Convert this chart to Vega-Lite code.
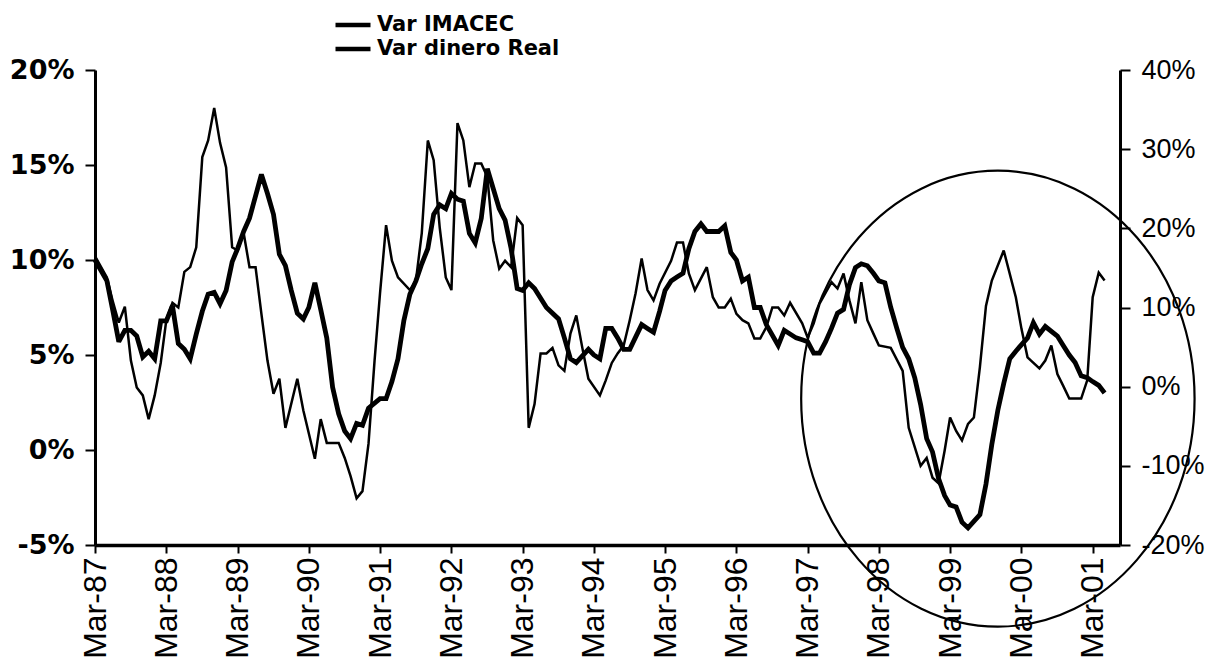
{
  "$schema": "https://vega.github.io/schema/vega-lite/v6.json",
  "width": 1025,
  "height": 475,
  "autosize": "none",
  "padding": {"left": 95, "top": 70, "right": 98, "bottom": 125},
  "background": "white",
  "config": {
    "view": {"stroke": null},
    "axis": {"grid": false, "domainColor": "black", "tickColor": "black", "labelColor": "black", "title": null},
    "legend": {
      "orient": "none", "legendX": 238, "legendY": -57,
      "symbolType": "stroke", "symbolSize": 1225, "symbolStrokeWidth": 4.5,
      "labelFont": "DejaVu Sans", "labelFontWeight": "bold", "labelFontSize": 21, "labelColor": "black", "labelLimit": 400,
      "clipHeight": 24, "rowPadding": 0, "labelOffset": 4, "title": null
    }
  },
  "datasets": {
    "imacec": [
      {"d": "1987-03-01", "v": 10.0}, {"d": "1987-05-01", "v": 8.9}, {"d": "1987-06-01", "v": 7.3}, {"d": "1987-07-01", "v": 5.7},
      {"d": "1987-08-01", "v": 6.3}, {"d": "1987-09-01", "v": 6.3}, {"d": "1987-10-01", "v": 6.0}, {"d": "1987-11-01", "v": 4.9},
      {"d": "1987-12-01", "v": 5.2}, {"d": "1988-01-01", "v": 4.8}, {"d": "1988-02-01", "v": 6.8}, {"d": "1988-03-01", "v": 6.8},
      {"d": "1988-04-01", "v": 7.6}, {"d": "1988-05-01", "v": 5.6}, {"d": "1988-06-01", "v": 5.3}, {"d": "1988-07-01", "v": 4.8},
      {"d": "1988-08-01", "v": 6.1}, {"d": "1988-09-01", "v": 7.3}, {"d": "1988-10-01", "v": 8.2}, {"d": "1988-11-01", "v": 8.3},
      {"d": "1988-12-01", "v": 7.7}, {"d": "1989-01-01", "v": 8.4}, {"d": "1989-02-01", "v": 9.9}, {"d": "1989-03-01", "v": 10.6},
      {"d": "1989-04-01", "v": 11.5}, {"d": "1989-05-01", "v": 12.2}, {"d": "1989-07-01", "v": 14.5}, {"d": "1989-08-01", "v": 13.5},
      {"d": "1989-09-01", "v": 12.4}, {"d": "1989-10-01", "v": 10.3}, {"d": "1989-11-01", "v": 9.7}, {"d": "1989-12-01", "v": 8.4},
      {"d": "1990-01-01", "v": 7.2}, {"d": "1990-02-01", "v": 6.9}, {"d": "1990-03-01", "v": 7.5}, {"d": "1990-04-01", "v": 8.8},
      {"d": "1990-05-01", "v": 7.4}, {"d": "1990-06-01", "v": 5.9}, {"d": "1990-07-01", "v": 3.3}, {"d": "1990-08-01", "v": 1.9},
      {"d": "1990-09-01", "v": 1.0}, {"d": "1990-10-01", "v": 0.6}, {"d": "1990-11-01", "v": 1.4}, {"d": "1990-12-01", "v": 1.3},
      {"d": "1991-01-01", "v": 2.2}, {"d": "1991-03-01", "v": 2.7}, {"d": "1991-04-01", "v": 2.7}, {"d": "1991-05-01", "v": 3.6},
      {"d": "1991-06-01", "v": 4.8}, {"d": "1991-07-01", "v": 6.8}, {"d": "1991-08-01", "v": 8.2}, {"d": "1991-09-01", "v": 8.9},
      {"d": "1991-10-01", "v": 9.8}, {"d": "1991-11-01", "v": 10.6}, {"d": "1991-12-01", "v": 12.4}, {"d": "1992-01-01", "v": 12.9},
      {"d": "1992-02-01", "v": 12.7}, {"d": "1992-03-01", "v": 13.5}, {"d": "1992-04-01", "v": 13.2}, {"d": "1992-05-01", "v": 13.1},
      {"d": "1992-06-01", "v": 11.4}, {"d": "1992-07-01", "v": 10.9}, {"d": "1992-08-01", "v": 12.2}, {"d": "1992-09-01", "v": 14.8},
      {"d": "1992-11-01", "v": 12.7}, {"d": "1992-12-01", "v": 12.1}, {"d": "1993-01-01", "v": 10.6}, {"d": "1993-02-01", "v": 8.5},
      {"d": "1993-03-01", "v": 8.4}, {"d": "1993-04-01", "v": 8.8}, {"d": "1993-05-01", "v": 8.5}, {"d": "1993-07-01", "v": 7.5},
      {"d": "1993-09-01", "v": 6.9}, {"d": "1993-10-01", "v": 5.9}, {"d": "1993-11-01", "v": 4.8}, {"d": "1993-12-01", "v": 4.6},
      {"d": "1994-02-01", "v": 5.3}, {"d": "1994-03-01", "v": 5.0}, {"d": "1994-04-01", "v": 4.8}, {"d": "1994-05-01", "v": 6.4},
      {"d": "1994-06-01", "v": 6.4}, {"d": "1994-07-01", "v": 5.9}, {"d": "1994-08-01", "v": 5.3}, {"d": "1994-09-01", "v": 5.3},
      {"d": "1994-11-01", "v": 6.6}, {"d": "1994-12-01", "v": 6.4}, {"d": "1995-01-01", "v": 6.2}, {"d": "1995-02-01", "v": 7.3},
      {"d": "1995-03-01", "v": 8.4}, {"d": "1995-04-01", "v": 8.9}, {"d": "1995-05-01", "v": 9.1}, {"d": "1995-06-01", "v": 9.3},
      {"d": "1995-07-01", "v": 10.6}, {"d": "1995-08-01", "v": 11.5}, {"d": "1995-09-01", "v": 11.9}, {"d": "1995-10-01", "v": 11.5},
      {"d": "1995-11-01", "v": 11.5}, {"d": "1995-12-01", "v": 11.5}, {"d": "1996-01-01", "v": 11.8}, {"d": "1996-02-01", "v": 10.4},
      {"d": "1996-03-01", "v": 10.0}, {"d": "1996-04-01", "v": 8.9}, {"d": "1996-05-01", "v": 9.1}, {"d": "1996-06-01", "v": 7.5},
      {"d": "1996-07-01", "v": 7.5}, {"d": "1996-08-01", "v": 6.6}, {"d": "1996-10-01", "v": 5.5}, {"d": "1996-11-01", "v": 6.3},
      {"d": "1997-01-01", "v": 5.9}, {"d": "1997-02-01", "v": 5.8}, {"d": "1997-03-01", "v": 5.7}, {"d": "1997-04-01", "v": 5.1},
      {"d": "1997-05-01", "v": 5.1}, {"d": "1997-06-01", "v": 5.7}, {"d": "1997-07-01", "v": 6.4}, {"d": "1997-08-01", "v": 7.2},
      {"d": "1997-09-01", "v": 7.4}, {"d": "1997-10-01", "v": 8.7}, {"d": "1997-11-01", "v": 9.6}, {"d": "1997-12-01", "v": 9.8},
      {"d": "1998-01-01", "v": 9.7}, {"d": "1998-02-01", "v": 9.3}, {"d": "1998-03-01", "v": 8.9}, {"d": "1998-04-01", "v": 8.8},
      {"d": "1998-05-01", "v": 7.5}, {"d": "1998-06-01", "v": 6.4}, {"d": "1998-07-01", "v": 5.4}, {"d": "1998-08-01", "v": 4.8},
      {"d": "1998-09-01", "v": 3.8}, {"d": "1998-10-01", "v": 2.4}, {"d": "1998-11-01", "v": 0.6}, {"d": "1998-12-01", "v": -0.1},
      {"d": "1999-01-01", "v": -1.5}, {"d": "1999-02-01", "v": -2.4}, {"d": "1999-03-01", "v": -2.9}, {"d": "1999-04-01", "v": -3.0},
      {"d": "1999-05-01", "v": -3.8}, {"d": "1999-06-01", "v": -4.1}, {"d": "1999-08-01", "v": -3.4}, {"d": "1999-09-01", "v": -1.8},
      {"d": "1999-10-01", "v": 0.3}, {"d": "1999-11-01", "v": 2.1}, {"d": "1999-12-01", "v": 3.5}, {"d": "2000-01-01", "v": 4.8},
      {"d": "2000-02-01", "v": 5.2}, {"d": "2000-04-01", "v": 5.9}, {"d": "2000-05-01", "v": 6.7}, {"d": "2000-06-01", "v": 6.1},
      {"d": "2000-07-01", "v": 6.5}, {"d": "2000-09-01", "v": 6.0}, {"d": "2000-10-01", "v": 5.5}, {"d": "2000-11-01", "v": 5.0},
      {"d": "2000-12-01", "v": 4.6}, {"d": "2001-01-01", "v": 3.9}, {"d": "2001-02-01", "v": 3.8}, {"d": "2001-03-01", "v": 3.6},
      {"d": "2001-04-01", "v": 3.4}, {"d": "2001-05-01", "v": 3.0}
    ],
    "dinero": [
      {"d": "1987-03-01", "v": 16.5}, {"d": "1987-05-01", "v": 13.8}, {"d": "1987-06-01", "v": 10.7}, {"d": "1987-07-01", "v": 8.1},
      {"d": "1987-08-01", "v": 10.1}, {"d": "1987-09-01", "v": 3.3}, {"d": "1987-10-01", "v": -0.1}, {"d": "1987-11-01", "v": -1.1},
      {"d": "1987-12-01", "v": -4.1}, {"d": "1988-01-01", "v": -1.1}, {"d": "1988-02-01", "v": 3.0}, {"d": "1988-03-01", "v": 8.5},
      {"d": "1988-04-01", "v": 10.6}, {"d": "1988-05-01", "v": 10.0}, {"d": "1988-06-01", "v": 14.5}, {"d": "1988-07-01", "v": 15.1},
      {"d": "1988-08-01", "v": 17.6}, {"d": "1988-09-01", "v": 29.0}, {"d": "1988-10-01", "v": 31.1}, {"d": "1988-11-01", "v": 35.2},
      {"d": "1988-12-01", "v": 30.8}, {"d": "1989-01-01", "v": 27.7}, {"d": "1989-02-01", "v": 17.6}, {"d": "1989-03-01", "v": 17.2},
      {"d": "1989-04-01", "v": 19.4}, {"d": "1989-05-01", "v": 15.1}, {"d": "1989-06-01", "v": 15.1}, {"d": "1989-07-01", "v": 9.2},
      {"d": "1989-08-01", "v": 3.3}, {"d": "1989-09-01", "v": -0.9}, {"d": "1989-10-01", "v": 1.0}, {"d": "1989-11-01", "v": -5.2},
      {"d": "1990-01-01", "v": 1.0}, {"d": "1990-02-01", "v": -3.0}, {"d": "1990-04-01", "v": -9.1}, {"d": "1990-05-01", "v": -4.1},
      {"d": "1990-06-01", "v": -7.1}, {"d": "1990-08-01", "v": -7.1}, {"d": "1990-09-01", "v": -9.0}, {"d": "1990-10-01", "v": -11.3},
      {"d": "1990-11-01", "v": -14.1}, {"d": "1990-12-01", "v": -13.2}, {"d": "1991-01-01", "v": -7.2}, {"d": "1991-02-01", "v": 3.3},
      {"d": "1991-03-01", "v": 11.8}, {"d": "1991-04-01", "v": 20.4}, {"d": "1991-05-01", "v": 15.9}, {"d": "1991-06-01", "v": 13.8},
      {"d": "1991-08-01", "v": 12.2}, {"d": "1991-09-01", "v": 13.4}, {"d": "1991-10-01", "v": 19.4}, {"d": "1991-11-01", "v": 31.1},
      {"d": "1991-12-01", "v": 28.6}, {"d": "1992-01-01", "v": 20.1}, {"d": "1992-02-01", "v": 13.8}, {"d": "1992-03-01", "v": 12.2},
      {"d": "1992-04-01", "v": 33.3}, {"d": "1992-05-01", "v": 31.1}, {"d": "1992-06-01", "v": 25.2}, {"d": "1992-07-01", "v": 28.2},
      {"d": "1992-08-01", "v": 28.2}, {"d": "1992-09-01", "v": 26.5}, {"d": "1992-10-01", "v": 18.5}, {"d": "1992-11-01", "v": 14.9},
      {"d": "1992-12-01", "v": 15.9}, {"d": "1993-01-01", "v": 15.1}, {"d": "1993-02-01", "v": 21.3}, {"d": "1993-03-01", "v": 20.4},
      {"d": "1993-04-01", "v": -5.2}, {"d": "1993-05-01", "v": -2.2}, {"d": "1993-06-01", "v": 4.2}, {"d": "1993-07-01", "v": 4.2},
      {"d": "1993-08-01", "v": 4.9}, {"d": "1993-09-01", "v": 2.7}, {"d": "1993-10-01", "v": 2.0}, {"d": "1993-11-01", "v": 6.7},
      {"d": "1993-12-01", "v": 9.0}, {"d": "1994-01-01", "v": 4.9}, {"d": "1994-02-01", "v": 1.0}, {"d": "1994-04-01", "v": -1.1},
      {"d": "1994-05-01", "v": 0.8}, {"d": "1994-06-01", "v": 3.0}, {"d": "1994-07-01", "v": 4.2}, {"d": "1994-08-01", "v": 5.2},
      {"d": "1994-09-01", "v": 8.4}, {"d": "1994-10-01", "v": 11.8}, {"d": "1994-11-01", "v": 16.2}, {"d": "1994-12-01", "v": 12.2},
      {"d": "1995-01-01", "v": 10.9}, {"d": "1995-02-01", "v": 13.0}, {"d": "1995-04-01", "v": 15.9}, {"d": "1995-05-01", "v": 18.2},
      {"d": "1995-06-01", "v": 18.2}, {"d": "1995-07-01", "v": 14.3}, {"d": "1995-08-01", "v": 12.2}, {"d": "1995-10-01", "v": 15.1},
      {"d": "1995-11-01", "v": 11.3}, {"d": "1995-12-01", "v": 10.0}, {"d": "1996-01-01", "v": 10.0}, {"d": "1996-02-01", "v": 11.1},
      {"d": "1996-03-01", "v": 9.2}, {"d": "1996-04-01", "v": 8.4}, {"d": "1996-05-01", "v": 8.0}, {"d": "1996-06-01", "v": 6.1},
      {"d": "1996-07-01", "v": 6.1}, {"d": "1996-08-01", "v": 7.5}, {"d": "1996-09-01", "v": 10.0}, {"d": "1996-10-01", "v": 10.0},
      {"d": "1996-11-01", "v": 9.0}, {"d": "1996-12-01", "v": 10.6}, {"d": "1997-02-01", "v": 8.0}, {"d": "1997-03-01", "v": 6.2},
      {"d": "1997-04-01", "v": 8.0}, {"d": "1997-05-01", "v": 10.5}, {"d": "1997-07-01", "v": 13.2}, {"d": "1997-08-01", "v": 12.4},
      {"d": "1997-09-01", "v": 14.3}, {"d": "1997-10-01", "v": 10.9}, {"d": "1997-11-01", "v": 8.0}, {"d": "1997-12-01", "v": 13.2},
      {"d": "1998-01-01", "v": 8.4}, {"d": "1998-02-01", "v": 6.7}, {"d": "1998-03-01", "v": 5.2}, {"d": "1998-05-01", "v": 4.9},
      {"d": "1998-07-01", "v": 2.0}, {"d": "1998-08-01", "v": -5.2}, {"d": "1998-10-01", "v": -10.0}, {"d": "1998-11-01", "v": -9.0},
      {"d": "1998-12-01", "v": -11.5}, {"d": "1999-01-01", "v": -12.2}, {"d": "1999-02-01", "v": -8.1}, {"d": "1999-03-01", "v": -3.9},
      {"d": "1999-04-01", "v": -5.6}, {"d": "1999-05-01", "v": -6.8}, {"d": "1999-06-01", "v": -4.7}, {"d": "1999-07-01", "v": -3.9},
      {"d": "1999-08-01", "v": 2.5}, {"d": "1999-09-01", "v": 10.2}, {"d": "1999-10-01", "v": 13.4}, {"d": "1999-12-01", "v": 17.2},
      {"d": "2000-02-01", "v": 11.3}, {"d": "2000-03-01", "v": 7.3}, {"d": "2000-04-01", "v": 3.7}, {"d": "2000-06-01", "v": 2.3},
      {"d": "2000-07-01", "v": 3.3}, {"d": "2000-08-01", "v": 5.2}, {"d": "2000-09-01", "v": 1.6}, {"d": "2000-10-01", "v": 0.1},
      {"d": "2000-11-01", "v": -1.5}, {"d": "2001-01-01", "v": -1.5}, {"d": "2001-02-01", "v": 0.8}, {"d": "2001-03-01", "v": 11.3},
      {"d": "2001-04-01", "v": 14.4}, {"d": "2001-05-01", "v": 13.4}
    ],
    "circle": [{"d": "1999-11-01", "v": 2.7}]
  },
  "layer": [
    {
      "data": {"name": "imacec"},
      "mark": {"type": "line", "strokeWidth": 4.8, "strokeJoin": "miter", "strokeMiterLimit": 3},
      "encoding": {
        "x": {
          "field": "d", "type": "temporal",
          "scale": {"type": "utc", "domain": [{"year": 1987, "month": 3, "date": 1, "utc": true}, {"year": 2001, "month": 7, "date": 19, "utc": true}]},
          "axis": {
            "orient": "bottom",
            "values": [
              {"year": 1987, "month": 3, "date": 1, "utc": true}, {"year": 1988, "month": 3, "date": 1, "utc": true},
              {"year": 1989, "month": 3, "date": 1, "utc": true}, {"year": 1990, "month": 3, "date": 1, "utc": true},
              {"year": 1991, "month": 3, "date": 1, "utc": true}, {"year": 1992, "month": 3, "date": 1, "utc": true},
              {"year": 1993, "month": 3, "date": 1, "utc": true}, {"year": 1994, "month": 3, "date": 1, "utc": true},
              {"year": 1995, "month": 3, "date": 1, "utc": true}, {"year": 1996, "month": 3, "date": 1, "utc": true},
              {"year": 1997, "month": 3, "date": 1, "utc": true}, {"year": 1998, "month": 3, "date": 1, "utc": true},
              {"year": 1999, "month": 3, "date": 1, "utc": true}, {"year": 2000, "month": 3, "date": 1, "utc": true},
              {"year": 2001, "month": 3, "date": 1, "utc": true}
            ],
            "labelExpr": "utcFormat(datum.value, '%b-%y')",
            "labelAngle": 270, "labelAlign": "right", "labelBaseline": "middle",
            "labelFont": "Liberation Sans", "labelFontSize": 32, "labelPadding": 4,
            "labelOverlap": false, "labelFlush": false,
            "tickSize": 8, "tickWidth": 2, "domainWidth": 3.5
          }
        },
        "y": {
          "field": "v", "type": "quantitative",
          "scale": {"domain": [-5, 20], "nice": false, "zero": false},
          "axis": {
            "orient": "left", "values": [-5, 0, 5, 10, 15, 20],
            "labelExpr": "datum.value + '%'",
            "labelFont": "DejaVu Sans", "labelFontWeight": "bold", "labelFontSize": 27,
            "labelPadding": 11, "tickSize": 10, "tickWidth": 2, "domainWidth": 3
          }
        },
        "color": {"datum": "Var IMACEC", "type": "nominal", "scale": {"domain": ["Var IMACEC", "Var dinero Real"], "range": ["black", "black"]}}
      }
    },
    {
      "data": {"name": "dinero"},
      "mark": {"type": "line", "strokeWidth": 2.5, "strokeJoin": "miter", "strokeMiterLimit": 3},
      "encoding": {
        "x": {"field": "d", "type": "temporal", "scale": {"type": "utc", "domain": [{"year": 1987, "month": 3, "date": 1, "utc": true}, {"year": 2001, "month": 7, "date": 19, "utc": true}]}},
        "y": {
          "field": "v", "type": "quantitative",
          "scale": {"domain": [-20, 40], "nice": false, "zero": false},
          "axis": {
            "orient": "right", "values": [-20, -10, 0, 10, 20, 30, 40],
            "labelExpr": "datum.value + '%'",
            "labelFont": "Liberation Sans", "labelFontSize": 27,
            "labelPadding": 11, "tickSize": 10, "tickWidth": 2, "domainWidth": 3
          }
        },
        "color": {"datum": "Var dinero Real", "type": "nominal", "scale": {"domain": ["Var IMACEC", "Var dinero Real"], "range": ["black", "black"]}}
      }
    },
    {
      "data": {"name": "circle"},
      "mark": {
        "type": "point",
        "shape": "M 1 0 C 1 0.640 0.552 1.159 0 1.159 C -0.552 1.159 -1 0.640 -1 0 C -1 -0.640 -0.552 -1.159 0 -1.159 C 0.552 -1.159 1 -0.640 1 0 Z",
        "size": 154764, "filled": false, "color": "black", "strokeWidth": 2.2, "opacity": 1
      },
      "encoding": {
        "x": {"field": "d", "type": "temporal", "scale": {"type": "utc", "domain": [{"year": 1987, "month": 3, "date": 1, "utc": true}, {"year": 2001, "month": 7, "date": 19, "utc": true}]}},
        "y": {"field": "v", "type": "quantitative", "scale": {"domain": [-5, 20], "nice": false, "zero": false}, "axis": null}
      }
    }
  ],
  "resolve": {"scale": {"y": "independent"}, "axis": {"y": "independent"}}
}
